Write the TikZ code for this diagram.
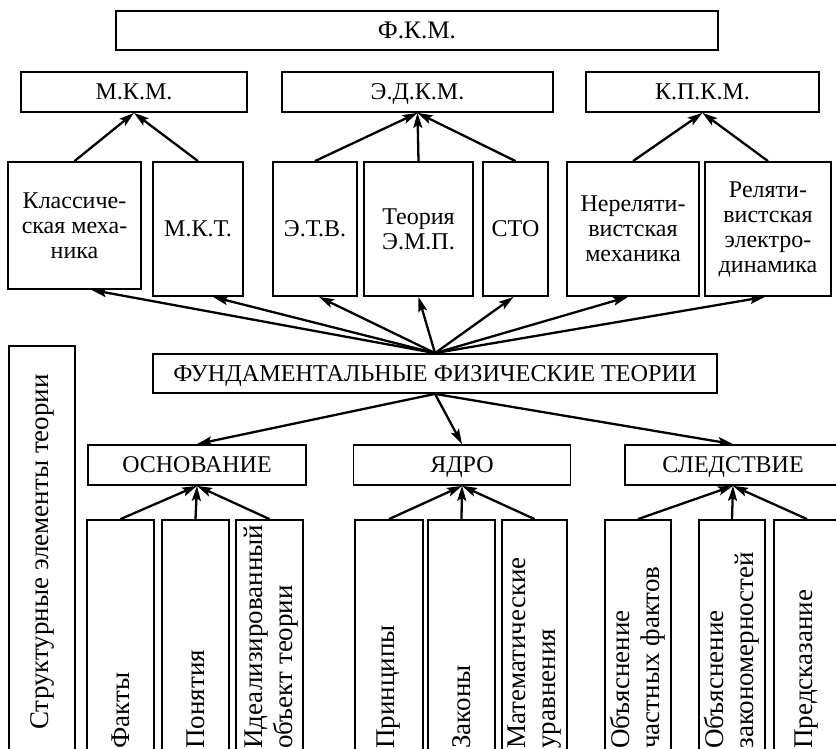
\documentclass[tikz,border=0pt]{standalone}
\usepackage{fontspec}
\setmainfont{Liberation Serif}
\usetikzlibrary{arrows.meta,calc}
\begin{document}
\begin{tikzpicture}[x=0.5pt,y=-0.5pt,
  box/.style={draw, line width=0.9pt, inner sep=0pt, align=center, font=\fontsize{12}{12.5}\selectfont},
  one/.style={box, text height=8.2pt, text depth=0.5pt},
  bigbox/.style={one, minimum height=20pt},
  vbox/.style={draw, line width=0.9pt, inner sep=0pt, minimum height=140pt},
  vtext/.style={rotate=90, anchor=west, align=left, inner sep=0pt, font=\fontsize{13.5}{15}\selectfont},
  arr/.style={-{Stealth[length=7.5pt,width=4.5pt,inset=1.5pt]}, line width=1.15pt}
]
\useasboundingbox (0,0) rectangle (836,749);
\clip (0,0) rectangle (836,749);

% top level
\node[one, font=\fontsize{12.6}{13}\selectfont, minimum width=301pt, minimum height=19.5pt] (fkm) at (417,30.5) {Ф.К.М.};
\node[one, minimum width=113pt, minimum height=20pt] (mkm) at (134,92) {М.К.М.};
\node[one, minimum width=135.5pt, minimum height=20pt] (edkm) at (417.5,92) {Э.Д.К.М.};
\node[one, minimum width=116.5pt, minimum height=20pt] (kpkm) at (702.5,92) {К.П.К.М.};

% theories
\node[box, minimum width=66.5pt, minimum height=63.5pt] (klass) at (74.5,225.5) {Классиче-\\ская меха-\\ника};
\node[one, minimum width=45pt, minimum height=67pt] (mkt) at (198,229) {М.К.Т.};
\node[one, minimum width=42pt, minimum height=67pt] (etv) at (315,229) {Э.Т.В.};
\node[box, minimum width=54.5pt, minimum height=67pt] (temp) at (418.5,229) {Теория\\Э.М.П.};
\node[one, minimum width=32.5pt, minimum height=67pt] (sto) at (515.5,229) {СТО};
\node[box, minimum width=66pt, minimum height=67pt] (nerel) at (633,229) {Нереляти-\\вистская\\механика};
\node[box, minimum width=63pt, minimum height=67pt] (rel) at (768,229) {Реляти-\\вистская\\электро-\\динамика};

% central
\node[one, font=\fontsize{12.1}{13}\selectfont, minimum width=282pt, minimum height=19.5pt] (fft) at (435,373.5) {ФУНДАМЕНТАЛЬНЫЕ ФИЗИЧЕСКИЕ ТЕОРИИ};

\node[draw, line width=0.9pt, rotate=90, inner sep=0pt, minimum width=206pt, minimum height=33pt, font=\fontsize{13.5}{15}\selectfont] (struct) at (42,552) {Структурные элементы теории};

\node[bigbox, minimum width=109pt] (osn) at (197,465) {ОСНОВАНИЕ};
\node[bigbox, minimum width=108.5pt] (yadro) at (462,465) {ЯДРО};
\node[bigbox, minimum width=108pt] (sled) at (733,465) {СЛЕДСТВИЕ};

% bottom boxes
\node[vbox, minimum width=33.5pt] (fakty) at (120.5,660) {};
\node[vbox, minimum width=33.5pt] (ponyat) at (195.5,660) {};
\node[vbox, minimum width=33.5pt] (ideal) at (269.5,660) {};
\node[vbox, minimum width=34pt] (princ) at (389,660) {};
\node[vbox, minimum width=33.5pt] (zakony) at (461.5,660) {};
\node[vbox, minimum width=32.5pt] (mat) at (534.5,660) {};
\node[vbox, minimum width=33pt] (obch) at (638,660) {};
\node[vbox, minimum width=33pt] (obz) at (732,660) {};
\node[vbox, minimum width=33pt] (pred) at (807,660) {};

\node[vtext] (tfakty) at (120.5,749) {Факты};
\node[vtext] (tponyat) at (195.5,749) {Понятия};
\node[vtext] (tideal) at (271,749) {Идеализированный\\объект теории};
\node[vtext] (tprinc) at (389,749) {Принципы};
\node[vtext] (tzakony) at (461.5,749) {Законы};
\node[vtext] (tmat) at (534.5,749) {Математические\\уравнения};
\node[vtext] (tobch) at (638,749) {Объяснение\\частных фактов};
\node[vtext] (tobz) at (732,749) {Объяснение\\закономерностей};
\node[vtext] (tpred) at (807,749) {Предсказание};

% arrows to models
\draw[arr] (klass.north) -- (mkm.south);
\draw[arr] (mkt.north) -- (mkm.south);
\draw[arr] (etv.north) -- (edkm.south);
\draw[arr] (temp.north) -- (edkm.south);
\draw[arr] (sto.north) -- (edkm.south);
\draw[arr] (nerel.north) -- (kpkm.south);
\draw[arr] (rel.north) -- (kpkm.south);

% arrows from FFT up
\draw[arr] (fft.north) -- ([xshift=8.5pt]klass.south);
\draw[arr] (fft.north) -- ([xshift=7.5pt]mkt.south);
\draw[arr] (fft.north) -- ([xshift=2pt]etv.south);
\draw[arr] (fft.north) -- (temp.south);
\draw[arr] (fft.north) -- ([xshift=-1pt]sto.south);
\draw[arr] (fft.north) -- ([xshift=-2.5pt]nerel.south);
\draw[arr] (fft.north) -- ([xshift=-1.5pt]rel.south);

% arrows from FFT down
\draw[arr] (fft.south) -- (osn.north);
\draw[arr] (fft.south) -- (yadro.north);
\draw[arr] (fft.south) -- (sled.north);

% bottom arrows
\draw[arr] (fakty.north) -- (osn.south);
\draw[arr] (ponyat.north) -- (osn.south);
\draw[arr] (ideal.north) -- (osn.south);
\draw[arr] (princ.north) -- (yadro.south);
\draw[arr] (zakony.north) -- (yadro.south);
\draw[arr] (mat.north) -- (yadro.south);
\draw[arr] (obch.north) -- (sled.south);
\draw[arr] (obz.north) -- (sled.south);
\draw[arr] (pred.north) -- (sled.south);
\end{tikzpicture}
\end{document}
